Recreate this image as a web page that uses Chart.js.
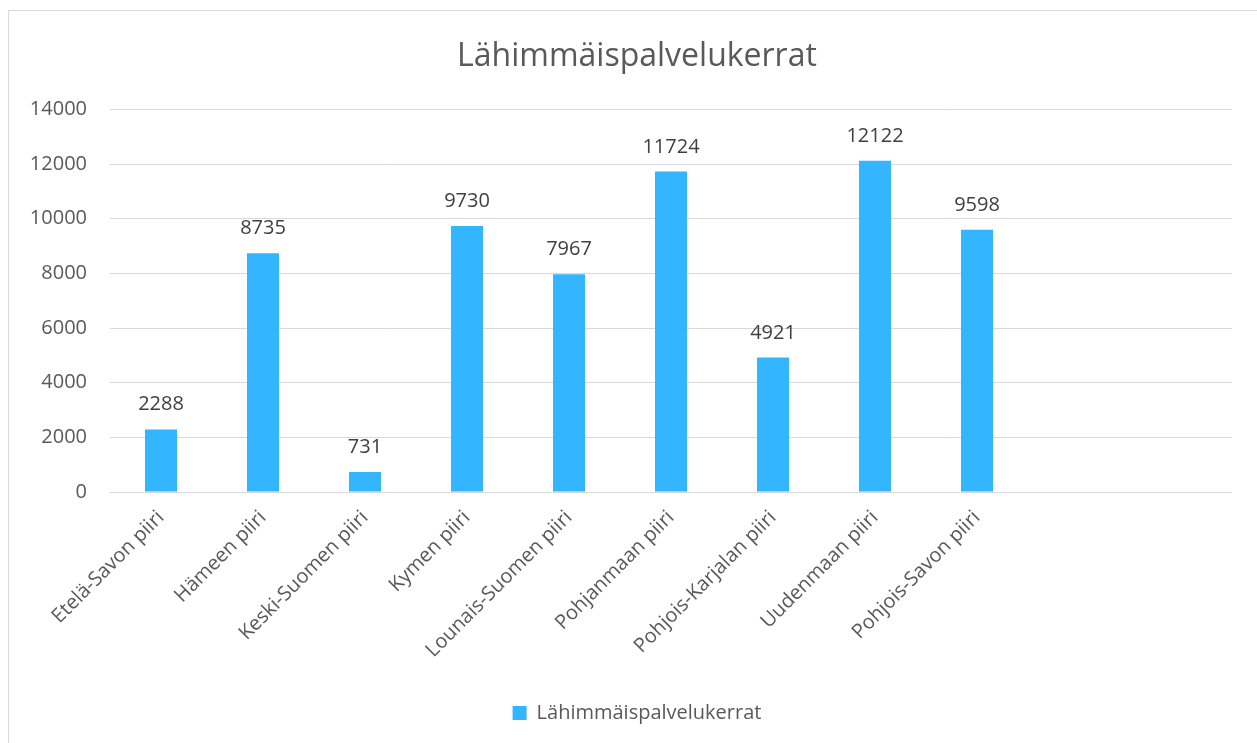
<!DOCTYPE html>
<html>
<head>
<meta charset="utf-8">
<script src="https://cdn.jsdelivr.net/npm/chart.js@4.4.1/dist/chart.umd.min.js"></script>
<style>
  html, body { margin: 0; padding: 0; background: #ffffff; }
  body { width: 1257px; height: 743px; position: relative; overflow: hidden; }
  #frame { position: absolute; left: 8px; top: 10px; width: 1400px; height: 900px; border: 1.5px solid #d9d9d9; box-sizing: border-box; }
  #wrap { position: absolute; left: 0; top: 0; width: 1257px; height: 743px; }
</style>
</head>
<body>
<div id="frame"></div>
<div id="wrap"><canvas id="c" width="1257" height="743"></canvas></div>
<script>
const chartTitle = "Lähimmäispalvelukerrat";
const seriesName = "Lähimmäispalvelukerrat";
const categories = ["Etelä-Savon piiri", "Hämeen piiri", "Keski-Suomen piiri", "Kymen piiri", "Lounais-Suomen piiri", "Pohjanmaan piiri", "Pohjois-Karjalan piiri", "Uudenmaan piiri", "Pohjois-Savon piiri"];
const values = [2288, 8735, 731, 9730, 7967, 11724, 4921, 12122, 9598];
const emptySlots = ["", ""];
const yTicks = [0, 2000, 4000, 6000, 8000, 10000, 12000, 14000];

const FONT = "'Open Sans', 'Noto Sans', sans-serif";
const barColor = "#33b5ff";

const dataLabels = {
  id: 'dataLabels',
  afterDatasetsDraw(chart) {
    const ctx = chart.ctx;
    const meta = chart.getDatasetMeta(0);
    ctx.save();
    ctx.font = "20px " + FONT;
    ctx.fillStyle = "#404040";
    ctx.textAlign = "center";
    ctx.textBaseline = "alphabetic";
    meta.data.forEach((bar, i) => {
      ctx.fillText(String(values[i]), bar.x, bar.y - 19);
    });
    ctx.restore();
  }
};

new Chart(document.getElementById('c'), {
  type: 'bar',
  data: {
    labels: categories.concat(emptySlots),
    datasets: [{
      label: seriesName,
      data: values,
      backgroundColor: barColor,
      borderWidth: 0,
      categoryPercentage: 1.0,
      barPercentage: 0.314
    }]
  },
  options: {
    responsive: false,
    animation: false,
    layout: { padding: { left: 26, right: 9, top: 0, bottom: 10 } },
    plugins: {
      title: {
        display: true,
        text: chartTitle,
        color: "#595959",
        font: { family: FONT, size: 32, weight: 'normal' },
        padding: { top: 38, bottom: 33 }
      },
      legend: {
        display: true,
        position: 'bottom',
        labels: {
          color: "#595959",
          font: { family: FONT, size: 20 },
          boxWidth: 14,
          boxHeight: 14,
          padding: 10
        }
      },
      tooltip: { enabled: false }
    },
    scales: {
      x: {
        grid: { display: false, drawTicks: false },
        border: { display: false },
        ticks: {
          color: "#595959",
          font: { family: FONT, size: 20 },
          maxRotation: 45,
          minRotation: 45,
          autoSkip: false,
          padding: 14
        },
        afterFit(s) { s.height = 201; }
      },
      y: {
        min: 0,
        max: 14000,
        afterBuildTicks(s) { s.ticks = yTicks.map(v => ({ value: v })); },
        grid: { color: "#d9d9d9", lineWidth: 1, drawTicks: false },
        border: { display: false },
        ticks: {
          color: "#595959",
          font: { family: FONT, size: 20 },
          padding: 23,
          callback: (v) => String(v)
        },
        afterFit(s) { s.width = 84; }
      },
      ySpacer: {
        position: 'right',
        display: true,
        grid: { display: false, drawTicks: false },
        border: { display: false },
        ticks: { display: false },
        afterFit(s) { s.width = 16; }
      }
    }
  },
  plugins: [dataLabels]
});
</script>
</body>
</html>
